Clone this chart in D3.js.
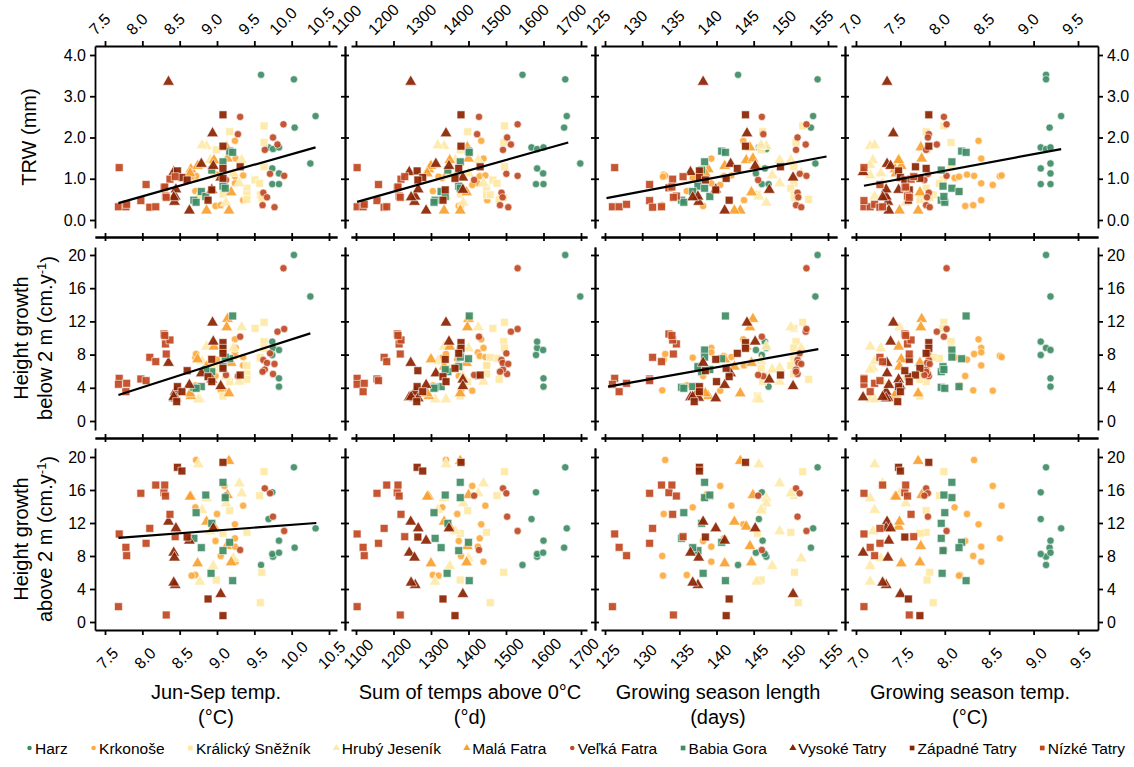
<!DOCTYPE html>
<html>
<head>
<meta charset="utf-8">
<script src="https://cdn.jsdelivr.net/npm/d3@7"></script>
<style>
  body { margin: 0; background: #fff; }
  text { font-family: "Liberation Sans", Arial, sans-serif; fill: #000; }
</style>
</head>
<body>
<div id="chart"></div>
<script>
////////////////////////////////////////////////////////////////////
////////////////////////////  Data  ////////////////////////////////
// one row per tree: [Jun-Sep temp, sum of temps, season length, season temp, TRW, height below 2 m, height above 2 m]
const harz = [
  [9.59, 1544, 142.9, 9.14, 3.52, null, 6.91],
  [10.03, 1658, 153.6, 9.14, 3.41, 20.0, 18.75],
  [10.32, 1662, 153.0, 9.31, 2.52, null, 11.35],
  [10.04, 1655, 152.7, 9.18, 2.24, null, 9.01],
  [10.25, 1698, 153.3, 9.19, 1.37, 15.0, null],
  [9.69, 1568, 145.7, 9.08, 1.76, null, 12.48],
  [9.75, 1583, 146.7, 9.14, 1.72, 8.8, 7.92],
  [9.83, 1600, 146.2, 9.19, 1.76, 5.14, 9.86],
  [9.74, 1583, 146.5, 9.08, 1.25, 9.56, 8.24],
  [9.83, 1599, 145.3, 9.19, 1.13, 8.55, 8.4],
  [9.74, 1580, 146.1, 9.08, 0.87, 7.95, 15.72],
  [9.83, 1600, 147.0, 9.19, 0.87, 4.14, null]
];
const krkonose = [
  [9.24, 1434, 143.6, 8.38, 1.92, 9.84, 11.84],
  [9.25, 1440, 139.3, 8.41, 1.49, 8.8, 7.31],
  [8.71, 1330, 136.8, 8.11, 1.02, 7.63, 13.9],
  [9.0, 1370, 132.9, 8.25, 1.1, 7.4, 13.09],
  [8.72, 1340, 133.1, 8.33, 1.07, 8.07, 19.64],
  [9.24, 1425, 139.3, 8.41, 0.89, 8.27, 9.13],
  [9.1, 1410, 140.5, 8.54, 0.85, 3.65, 16.49],
  [9.24, 1430, 141.0, 8.62, 1.06, 7.83, 10.14],
  [9.35, 1445, 142.0, 8.64, 1.08, 7.7, 14.1],
  [8.98, 1374, 138.2, 8.23, 0.34, 5.42, 9.82],
  [9.05, 1380, 132.7, 8.32, 0.36, 3.7, 8.0],
  [9.35, 1450, 143.7, 8.41, 0.48, 6.7, null],
  [8.71, 1305, 136.0, 8.17, 0.7, 4.3, 5.7],
  [8.66, 1320, 132.8, 8.16, 1.05, null, 5.62]
];
const kralicky = [
  [9.17, 1398, 146.2, 7.79, 2.14, 4.74, 13.5],
  [9.63, 1496, 151.6, 7.99, 2.28, 11.89, 18.22],
  [9.63, 1494, 150.7, 8.07, 1.88, 9.56, null],
  [9.63, 1496, 150.4, 8.07, 1.29, 8.8, null],
  [9.51, 1465, 150.4, 7.98, 0.97, 11.16, null],
  [9.57, 1476, 150.4, 7.94, 0.89, 7.55, 15.31],
  [9.4, 1448, 150.0, 7.79, 0.77, 6.67, 10.87],
  [9.4, 1448, 150.4, 7.72, 0.61, 5.66, null],
  [9.58, 1458, 151.0, 7.87, 0.61, 7.67, 2.34],
  [9.4, 1482, 152.4, 7.72, 0.5, 5.02, null],
  [9.6, 1494, 150.5, 7.83, 0.54, null, 6.02],
  [9.08, 1378, 145.5, 7.72, 0.63, 3.01, 10.75],
  [8.99, 1378, 146.0, 7.8, 1.7, 6.4, 5.09]
];
const hruby = [
  [8.86, 1335, 146.7, 7.16, 1.79, 8.96, 14.99],
  [8.91, 1365, 148.5, 7.19, 1.45, 6.4, 11.0],
  [8.77, 1311, 145.4, 7.16, 1.33, 2.61, 4.89],
  [9.12, 1386, 146.7, 7.56, 0.42, 5.34, 14.38],
  [9.33, 1426, 150.0, 7.49, 1.45, 11.29, 15.6],
  [8.75, 1340, 145.7, 7.21, 0.57, 2.61, 19.11],
  [9.22, 1400, 151.4, 7.28, 1.13, 8.76, 7.72],
  [8.8, 1318, 146.0, 7.21, 1.81, 7.2, 13.58],
  [9.3, 1440, 148.5, 7.3, 0.89, 4.74, 16.8],
  [8.95, 1350, 147.5, 7.16, 1.08, 6.2, 6.79]
];
const mala = [
  [8.65, 1294, 138.9, 7.44, 1.23, 3.01, 15.19],
  [8.74, 1300, 141.1, 7.51, 1.31, 7.43, 7.11],
  [8.96, 1350, 144.0, 7.48, 1.45, 8.96, 11.56],
  [9.14, 1400, 144.9, 7.74, 1.49, 12.29, 15.39],
  [9.19, 1395, 144.7, 7.72, 0.67, 7.0, 7.23],
  [9.16, 1378, 143.2, 7.7, 0.23, 3.33, 19.52],
  [8.86, 1335, 142.4, 7.49, 0.23, 6.55, 12.16],
  [8.64, 1290, 138.5, 7.45, 1.13, 3.33, 15.19],
  [9.13, 1397, 144.5, 7.73, 1.76, 11.29, 9.2]
];
const velka = [
  [9.31, 1428, 146.1, 7.99, 2.5, 10.16, 8.73],
  [9.28, 1423, 146.3, 7.82, 2.08, 5.4, null],
  [9.75, 1503, 150.9, 7.81, 2.0, 5.66, 12.77],
  [9.89, 1531, 152.1, 8.02, 2.32, 18.4, null],
  [9.81, 1513, 152.0, 7.91, 1.83, 10.76, null],
  [9.64, 1492, 150.7, 7.79, 1.7, 6.2, 16.2],
  [9.71, 1501, 151.2, 7.81, 1.12, 8.15, 15.6],
  [9.9, 1531, 152.1, 8.02, 1.07, 11.08, 11.03],
  [9.62, 1488, 150.9, 7.82, 0.66, 7.35, null],
  [9.67, 1491, 151.0, 7.8, 0.55, 7.0, null],
  [9.61, 1484, 150.7, 7.79, 0.36, 5.94, null],
  [9.77, 1506, 151.4, 7.83, 0.31, 6.87, null],
  [9.12, 1415, 145.6, 7.77, 0.97, 5.54, 15.31]
];
const babia = [
  [9.17, 1400, 140.7, 8.19, 1.67, 7.5, 9.66],
  [9.21, 1402, 141.2, 8.24, 1.64, 12.65, 5.01],
  [9.08, 1378, 138.4, 8.08, 1.41, 8.55, 16.93],
  [8.93, 1345, 138.0, 7.96, 1.21, 5.94, 11.96],
  [9.08, 1374, 137.5, 7.98, 0.82, 6.55, 8.65],
  [9.11, 1378, 138.4, 8.08, 0.77, 7.7, 15.07],
  [8.79, 1327, 136.8, 8.16, 0.69, 4.14, 9.01],
  [8.69, 1311, 135.3, 7.96, 0.48, 4.06, 10.14],
  [8.72, 1308, 135.6, 8.0, 0.43, 3.94, 13.25],
  [8.85, 1338, 139.1, 7.99, 0.57, 6.2, 15.39],
  [8.92, 1343, 138.2, 7.97, null, null, 5.9]
];
const vysoke = [
  [8.35, 1246, 138.2, 7.35, 3.35, 7.0, 12.16],
  [8.42, 1242, 136.5, 7.08, 1.16, 2.85, 8.4],
  [8.43, 1256, 137.6, 7.36, 0.44, 2.8, 7.8],
  [8.44, 1258, 137.5, 7.34, 0.57, 3.53, 4.48],
  [8.45, 1266, 139.9, 7.34, 0.74, 2.73, 11.35],
  [8.63, 1287, 141.1, 7.37, 0.23, 4.34, 9.86],
  [8.94, 1340, 144.1, 7.42, 2.1, 11.85, null],
  [8.79, 1313, 141.9, 7.35, 1.36, 5.74, null],
  [8.95, 1348, 145.2, 7.39, 1.31, 9.56, 11.35],
  [8.93, 1385, 147.1, 7.48, 0.73, 5.0, null],
  [9.05, 1385, 150.3, 7.5, 1.03, 4.2, 3.39],
  [8.42, 1247, 136.8, 7.3, 0.55, 2.9, 4.77]
];
const zapadne = [
  [9.08, 1380, 143.9, 7.82, 2.55, 9.44, 19.35],
  [9.08, 1380, 143.9, 7.82, 1.79, 8.76, null],
  [9.08, 1374, 142.8, 7.79, 1.25, 8.15, null],
  [9.08, 1364, 141.3, 7.72, 1.01, 6.35, 0.77],
  [8.47, 1263, 137.7, 7.48, 1.19, 4.14, 18.75],
  [8.53, 1278, 137.7, 7.5, 1.03, 3.53, 18.3],
  [8.93, 1338, 139.9, 7.6, 0.73, 7.43, null],
  [8.88, 1332, 141.7, 7.59, 0.48, 5.34, 2.79],
  [9.31, 1431, 148.6, 7.67, 1.29, 5.54, null],
  [8.6, 1265, 138.5, 7.55, 0.97, 6.06, 10.3],
  [8.46, 1262, 137.0, 7.47, null, 2.33, null],
  [8.93, 1340, 140.0, 7.6, null, 4.74, null]
];
const nizke = [
  [7.69, 1103, 126.3, 7.09, 1.27, 5.14, 10.67],
  [7.68, 1103, 126.0, 7.09, 0.32, 4.42, 1.86],
  [7.78, 1119, 126.9, 7.16, 0.32, 3.53, 9.05],
  [7.79, 1122, 127.9, 7.21, 0.38, 4.54, 8.04],
  [7.98, 1156, 131.0, 7.09, 0.47, 5.06, 15.6],
  [8.05, 1160, 131.0, 7.27, 0.86, 4.86, 9.54],
  [8.1, 1175, 131.4, 7.27, 0.31, 7.67, 11.35],
  [8.18, 1182, 132.6, 7.3, 0.32, 7.15, 16.6],
  [8.29, 1210, 133.6, 7.55, 0.78, 10.48, 15.68],
  [8.31, 1215, 134.6, 7.58, 0.58, 9.28, 15.27],
  [8.32, 1218, 134.2, 7.6, 0.55, 8.07, 0.85],
  [8.37, 1220, 134.1, 7.62, 0.99, 9.76, 13.05],
  [8.44, 1230, 135.5, 7.65, 1.05, null, 10.34],
  [8.3, 1212, 134.0, 7.56, 0.8, 10.3, 16.6]
];

const siteNames = ["Harz", "Krkonoše", "Králický Sněžník", "Hrubý Jeseník", "Malá Fatra",
  "Veľká Fatra", "Babia Gora", "Vysoké Tatry", "Západné Tatry", "Nízké Tatry"];
const siteTrees = [harz, krkonose, kralicky, hruby, mala, velka, babia, vysoke, zapadne, nizke];

// ticks
const xTicks = [
  [7.5, 8.0, 8.5, 9.0, 9.5, 10.0, 10.5],
  [1100, 1200, 1300, 1400, 1500, 1600, 1700],
  [125, 130, 135, 140, 145, 150, 155],
  [7.0, 7.5, 8.0, 8.5, 9.0, 9.5]
];
const yTicks = [
  [0, 1, 2, 3, 4],
  [0, 4, 8, 12, 16, 20],
  [0, 4, 8, 12, 16, 20]
];

// fitted lines: [row, col, x0, y0, x1, y1]
const fitLines = [
  [0, 0, 7.68, 0.41, 10.32, 1.76],
  [0, 1, 1103, 0.44, 1666, 1.88],
  [0, 2, 125.2, 0.53, 154.8, 1.54],
  [0, 3, 7.09, 0.83, 9.31, 1.72],
  [1, 0, 7.68, 3.13, 10.25, 10.56],
  [1, 2, 125.4, 4.15, 153.7, 8.65],
  [2, 0, 7.68, 10.2, 10.33, 12.0]
];

const xTitles = [
  ["Jun-Sep temp.", "(°C)"],
  ["Sum of temps above 0°C", "(°d)"],
  ["Growing season length", "(days)"],
  ["Growing season temp.", "(°C)"]
];
const yTitles = [["TRW (mm)"], ["Height growth", "below 2 m (cm.y"], ["Height growth", "above 2 m (cm.y"]];

////////////////////////////////////////////////////////////////////
////////////////////////////  Style  ///////////////////////////////
const siteShape = ["circle", "circle", "square", "triangle", "triangle",
  "circle", "square", "triangle", "square", "square"];
const siteColor = ["#3f8c65", "#fcaa3e", "#fee8a4", "#fee9a8", "#f9a12f",
  "#bf4a25", "#3f8c65", "#8b2300", "#8b2300", "#c0481f"];

////////////////////////////////////////////////////////////////////
////////////////////////////  Init  ////////////////////////////////
const width = 1134;
const height = 767;

const svg = d3.select("#chart").append("svg")
  .attr("width", width).attr("height", height);

const colX = [[95, 337], [351, 587], [601, 837], [851, 1098]];
const colDomain = [[7.366, 10.607], [1086.7, 1716], [124.46, 156.21], [6.944, 9.725]];
const rowY = [[46, 228], [247, 430], [448, 630]];
const rowDomain = [[-0.194, 4.218], [-1.084, 20.96], [-0.97, 21.09]];

const xScales = colX.map((r, i) => d3.scaleLinear().domain(colDomain[i]).range(r));
const yScales = rowY.map((r, i) => d3.scaleLinear().domain(rowDomain[i]).range([r[1], r[0]]));

const xFormat = [d3.format(".1f"), d3.format("d"), d3.format("d"), d3.format(".1f")];
const yFormat = [d3.format(".1f"), d3.format("d"), d3.format("d")];

const lineW = 1.8;
const font = 16;

function styleAxis(g) {
  g.selectAll("path, line").attr("stroke", "#000").attr("stroke-width", lineW);
  g.attr("font-size", font).attr("font-family", "Liberation Sans, Arial, sans-serif");
  g.selectAll("text").attr("fill", "#000");
}

// horizontal axes
xScales.forEach((xs, c) => {
  // top, labelled
  const top = svg.append("g").attr("transform", `translate(0, ${rowY[0][0]})`)
    .call(d3.axisTop(xs).tickValues(xTicks[c]).tickFormat(xFormat[c]).tickSize(5).tickSizeOuter(0));
  styleAxis(top);
  top.selectAll("text")
    .attr("y", 0).attr("dy", "0.35em").attr("text-anchor", "middle")
    .attr("transform", function () {
      const L = this.getComputedTextLength();
      return `translate(${-0.354 * L + 2}, ${-10 - 0.354 * L - 4}) rotate(-45)`;
    });

  // inner lines between rows, ticks crossing
  [237, 438].forEach((yy) => {
    const a = svg.append("g").attr("transform", `translate(0, ${yy})`)
      .call(d3.axisTop(xs).tickValues(xTicks[c]).tickFormat("").tickSize(4).tickSizeOuter(0));
    const b = svg.append("g").attr("transform", `translate(0, ${yy})`)
      .call(d3.axisBottom(xs).tickValues(xTicks[c]).tickFormat("").tickSize(4).tickSizeOuter(0));
    styleAxis(a); styleAxis(b);
  });

  // bottom, labelled
  const bot = svg.append("g").attr("transform", `translate(0, ${rowY[2][1]})`)
    .call(d3.axisBottom(xs).tickValues(xTicks[c]).tickFormat(xFormat[c]).tickSize(5).tickSizeOuter(0));
  styleAxis(bot);
  bot.selectAll("text")
    .attr("y", 0).attr("dy", "0.35em").attr("text-anchor", "middle")
    .attr("transform", function () {
      const L = this.getComputedTextLength();
      return `translate(2, ${40 - 0.354 * L - 4}) rotate(-45)`;
    });
});

// vertical axes
const vX = [95, 345, 595, 845, 1098];
yScales.forEach((ys, r) => {
  vX.forEach((xx, k) => {
    if (k === 0) {
      const g = svg.append("g").attr("transform", `translate(${xx}, 0)`)
        .call(d3.axisLeft(ys).tickValues(yTicks[r]).tickFormat(yFormat[r]).tickSize(5).tickPadding(4).tickSizeOuter(0));
      styleAxis(g);
    } else if (k === vX.length - 1) {
      const g = svg.append("g").attr("transform", `translate(${xx}, 0)`)
        .call(d3.axisRight(ys).tickValues(yTicks[r]).tickFormat(yFormat[r]).tickSize(5).tickPadding(4).tickSizeOuter(0));
      styleAxis(g);
    } else {
      const a = svg.append("g").attr("transform", `translate(${xx}, 0)`)
        .call(d3.axisLeft(ys).tickValues(yTicks[r]).tickFormat("").tickSize(4).tickSizeOuter(0));
      const b = svg.append("g").attr("transform", `translate(${xx}, 0)`)
        .call(d3.axisRight(ys).tickValues(yTicks[r]).tickFormat("").tickSize(4).tickSizeOuter(0));
      styleAxis(a); styleAxis(b);
    }
  });
});

////////////////////////////////////////////////////////////////////
////////////////////////////  Points  //////////////////////////////
const symbolType = { circle: d3.symbolCircle, square: d3.symbolSquare, triangle: d3.symbolTriangle };
const symbolSize = { circle: 42, square: 62, triangle: 60 };

const points = [];
for (let r = 0; r < 3; r++) {
  for (let c = 0; c < 4; c++) {
    siteTrees.forEach((trees, s) => {
      trees.forEach((t) => {
        if (t[c] != null && t[4 + r] != null) points.push({ r, c, s, x: t[c], y: t[4 + r] });
      });
    });
  }
}

svg.append("g").selectAll("path")
  .data(points)
  .enter()
  .append("path")
  .attr("transform", (d) => `translate(${xScales[d.c](d.x)}, ${yScales[d.r](d.y)})`)
  .attr("d", (d) => d3.symbol().type(symbolType[siteShape[d.s]]).size(symbolSize[siteShape[d.s]])())
  .attr("fill", (d) => siteColor[d.s])
  .attr("fill-opacity", 0.92)
  .attr("stroke", "#fff")
  .attr("stroke-width", 0.6);

// fitted lines
svg.append("g").selectAll("line")
  .data(fitLines)
  .enter()
  .append("line")
  .attr("x1", (d) => xScales[d[1]](d[2]))
  .attr("y1", (d) => yScales[d[0]](d[3]))
  .attr("x2", (d) => xScales[d[1]](d[4]))
  .attr("y2", (d) => yScales[d[0]](d[5]))
  .attr("stroke", "#000")
  .attr("stroke-width", 2.2);

////////////////////////////////////////////////////////////////////
////////////////////////////  Titles  //////////////////////////////
const titleX = [216, 470, 718, 970];
xTitles.forEach((lines, c) => {
  lines.forEach((txt, i) => {
    svg.append("text")
      .attr("x", titleX[c]).attr("y", 699 + 25 * i)
      .attr("text-anchor", "middle").attr("font-size", 20)
      .text(txt);
  });
});

const titleY = [137, 338, 539];
yTitles.forEach((lines, r) => {
  const base = lines.length === 1 ? [36] : [28, 52];
  lines.forEach((txt, i) => {
    const t = svg.append("text")
      .attr("transform", `translate(${base[i]}, ${titleY[r]}) rotate(-90)`)
      .attr("text-anchor", "middle").attr("font-size", 20);
    t.append("tspan").text(txt);
    if (i === 1) {
      t.append("tspan").attr("dy", "-0.45em").attr("font-size", 13).text("-1");
      t.append("tspan").attr("dy", "0.45em").text(")");
    }
  });
});

////////////////////////////////////////////////////////////////////
////////////////////////////  Legend  //////////////////////////////
const legend = svg.append("g");
const legendY = 748;
const legendTexts = siteNames.map((name) =>
  legend.append("text").attr("y", legendY + 5.5).attr("font-size", 15.5).text(name));
const textW = legendTexts.map((t) => t.node().getComputedTextLength());
const markW = 9;
const x0 = 26, x1 = 1125;
const gap = (x1 - x0 - d3.sum(textW) - markW * siteNames.length) / (siteNames.length - 1);
const legendSize = { circle: 16, square: 22, triangle: 22 };
let lx = x0;
siteNames.forEach((name, s) => {
  legend.append("path")
    .attr("transform", `translate(${lx + 3.5}, ${legendY})`)
    .attr("d", d3.symbol().type(symbolType[siteShape[s]]).size(legendSize[siteShape[s]])())
    .attr("fill", siteColor[s]);
  legendTexts[s].attr("x", lx + markW);
  lx += markW + textW[s] + gap;
});
</script>
</body>
</html>
